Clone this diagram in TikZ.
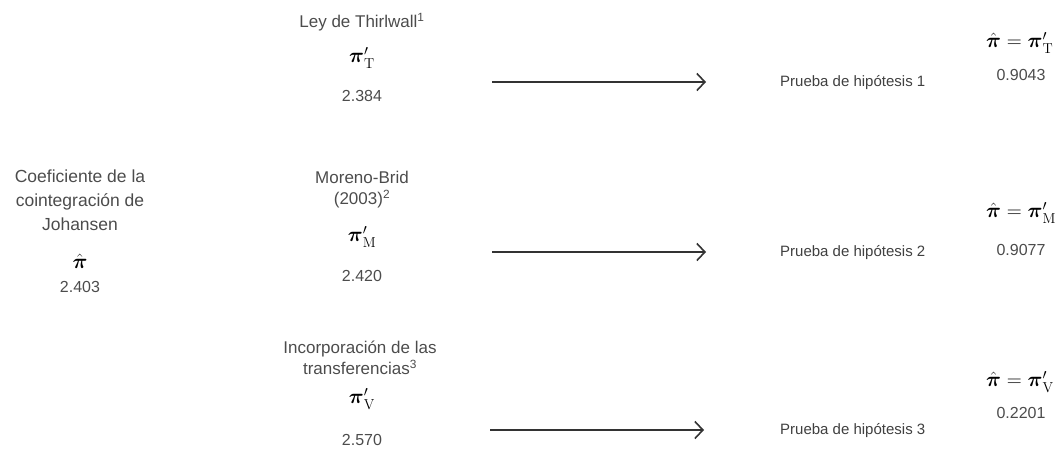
\documentclass[tikz,border=0pt]{standalone}
\usepackage{amsmath}
\usepackage[no-math]{fontspec}
\setmainfont{Liberation Sans}
\usetikzlibrary{arrows.meta}
\newcommand{\bpi}{\boldsymbol{\pi}}
\tikzset{
  lbl/.style={font=\fontsize{17}{21}\selectfont, text=black!70, align=center, inner sep=0pt},
  num/.style={font=\fontsize{16}{18}\selectfont, text=black!70, inner sep=0pt},
  hyp/.style={font=\fontsize{15}{18}\selectfont, text=black!75, inner sep=0pt, anchor=west},
  mth/.style={font=\fontsize{22}{24}\selectfont, inner sep=0pt},
  eqn/.style={font=\fontsize{21}{23}\selectfont, inner sep=0pt, anchor=west},
  arr/.style={line width=1.6pt, draw=black!80, -{Straight Barb[length=8pt,width=17pt,line width=1.6pt]}},
}
\begin{document}
\begin{tikzpicture}[x=1pt,y=-1pt]
\useasboundingbox (0,0) rectangle (1058,453);
% left column
\node[lbl, font=\fontsize{17.5}{24}\selectfont] (coef) at (80,200) {Coeficiente de la\\cointegración de\\Johansen};
\node[mth] (pihat) at (80,261) {$\hat{\bpi}$};
\node[num] (n0) at (80,287) {2.403};
% middle column
\node[lbl] (t1) at (362,22) {Ley de Thirlwall\textsuperscript{1}};
\node[mth] (p1) at (362,58) {$\bpi'_{\mathrm{T}}$};
\node[num] (n1) at (362,96) {2.384};
\node[lbl] (t2) at (362,190) {Moreno-Brid\\(2003)\textsuperscript{2}};
\node[mth] (p2) at (362,237) {$\bpi'_{\mathrm{M}}$};
\node[num] (n2) at (362,276) {2.420};
\node[lbl] (t3) at (360,358) {Incorporación de las\\transferencias\textsuperscript{3}};
\node[mth] (p3) at (362,399) {$\bpi'_{\mathrm{V}}$};
\node[num] (n3) at (362,440) {2.570};
% arrows
\coordinate (a1s) at (492,82);
\coordinate (a1e) at (706,82);
\coordinate (a2s) at (492,252);
\coordinate (a2e) at (706,252);
\coordinate (a3s) at (490,430);
\coordinate (a3e) at (704,430);
\draw[arr] (a1s) -- (a1e);
\draw[arr] (a2s) -- (a2e);
\draw[arr] (a3s) -- (a3e);
% tests
\node[hyp] (h1) at (780,83) {Prueba de hipótesis 1};
\node[hyp] (h2) at (780,253) {Prueba de hipótesis 2};
\node[hyp] (h3) at (780,431) {Prueba de hipótesis 3};
% right column
\node[eqn] (e1) at (986,43) {$\hat{\bpi}=\bpi'_{\mathrm{T}}$};
\node[num] (r1) at (1021,75) {0.9043};
\node[eqn] (e2) at (986,213) {$\hat{\bpi}=\bpi'_{\mathrm{M}}$};
\node[num] (r2) at (1021,250) {0.9077};
\node[eqn] (e3) at (986,382) {$\hat{\bpi}=\bpi'_{\mathrm{V}}$};
\node[num] (r3) at (1021,413) {0.2201};
\end{tikzpicture}
\end{document}
